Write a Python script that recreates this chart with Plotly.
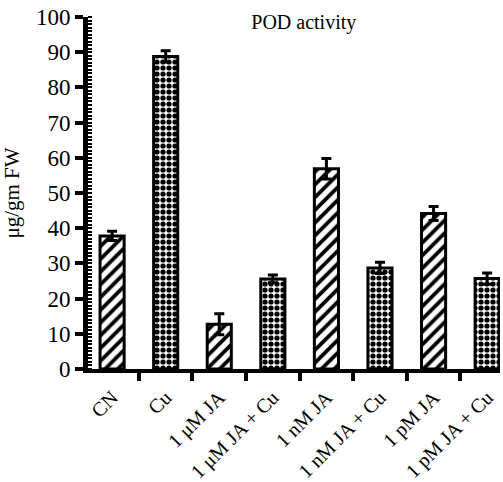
import plotly.graph_objects as go

categories = ["CN", "Cu", "1 μM JA", "1 μM JA + Cu", "1 nM JA", "1 nM JA + Cu", "1 pM JA", "1 pM JA + Cu"]
values = [37.8, 88.8, 12.7, 25.6, 56.9, 28.7, 44.2, 25.7]
errors = [1.3, 1.6, 3.0, 1.1, 2.9, 1.6, 2.0, 1.6]
patterns = ["/", ".", "/", ".", "/", ".", "/", "."]
tick_vals = [0, 10, 20, 30, 40, 50, 60, 70, 80, 90, 100]

FONT = "Liberation Serif"

fig = go.Figure()
fig.add_trace(go.Bar(
    x=categories, y=values, width=0.45,
    marker=dict(
        color="white",
        line=dict(color="black", width=3),
        pattern=dict(shape=patterns, fgcolor="black", bgcolor="white", fgopacity=1,
                     size=[9 if p == "/" else 6 for p in patterns],
                     solidity=[0.42 if p == "/" else 0.6 for p in patterns]),
    ),
    error_y=dict(type="data", array=errors, visible=True, color="black",
                 thickness=3, width=5),
))

fig.update_layout(
    width=503, height=482,
    margin=dict(l=88, r=3, t=17, b=113),
    paper_bgcolor="white", plot_bgcolor="white",
    showlegend=False,
    font=dict(family=FONT, color="black", size=20),
    title=dict(text="POD activity", x=0.604, xanchor="center", y=0.955, yanchor="middle",
               font=dict(family=FONT, size=20, color="black")),
)
fig.update_xaxes(
    type="category", range=[-0.45, 7.24], automargin=False,
    showline=True, linecolor="black", linewidth=4,
    ticks="outside", tickson="boundaries", ticklen=8, tickwidth=4, tickcolor="black",
    tickangle=-45, tickfont=dict(family=FONT, size=20), ticklabelstandoff=5,
    showgrid=False, zeroline=False,
)
fig.update_yaxes(
    range=[0, 100], tickvals=tick_vals, automargin=False,
    showline=True, linecolor="black", linewidth=5,
    ticks="outside", ticklen=8, tickwidth=4, tickcolor="black",
    tickfont=dict(family=FONT, size=23),
    minor=dict(ticks="inside", dtick=1, ticklen=4, tickwidth=1.5, tickcolor="black", showgrid=False),
    showgrid=False, zeroline=False,
    title=dict(text="μg/gm FW", font=dict(family=FONT, size=21), standoff=16),
)
fig.write_html("out.html")
